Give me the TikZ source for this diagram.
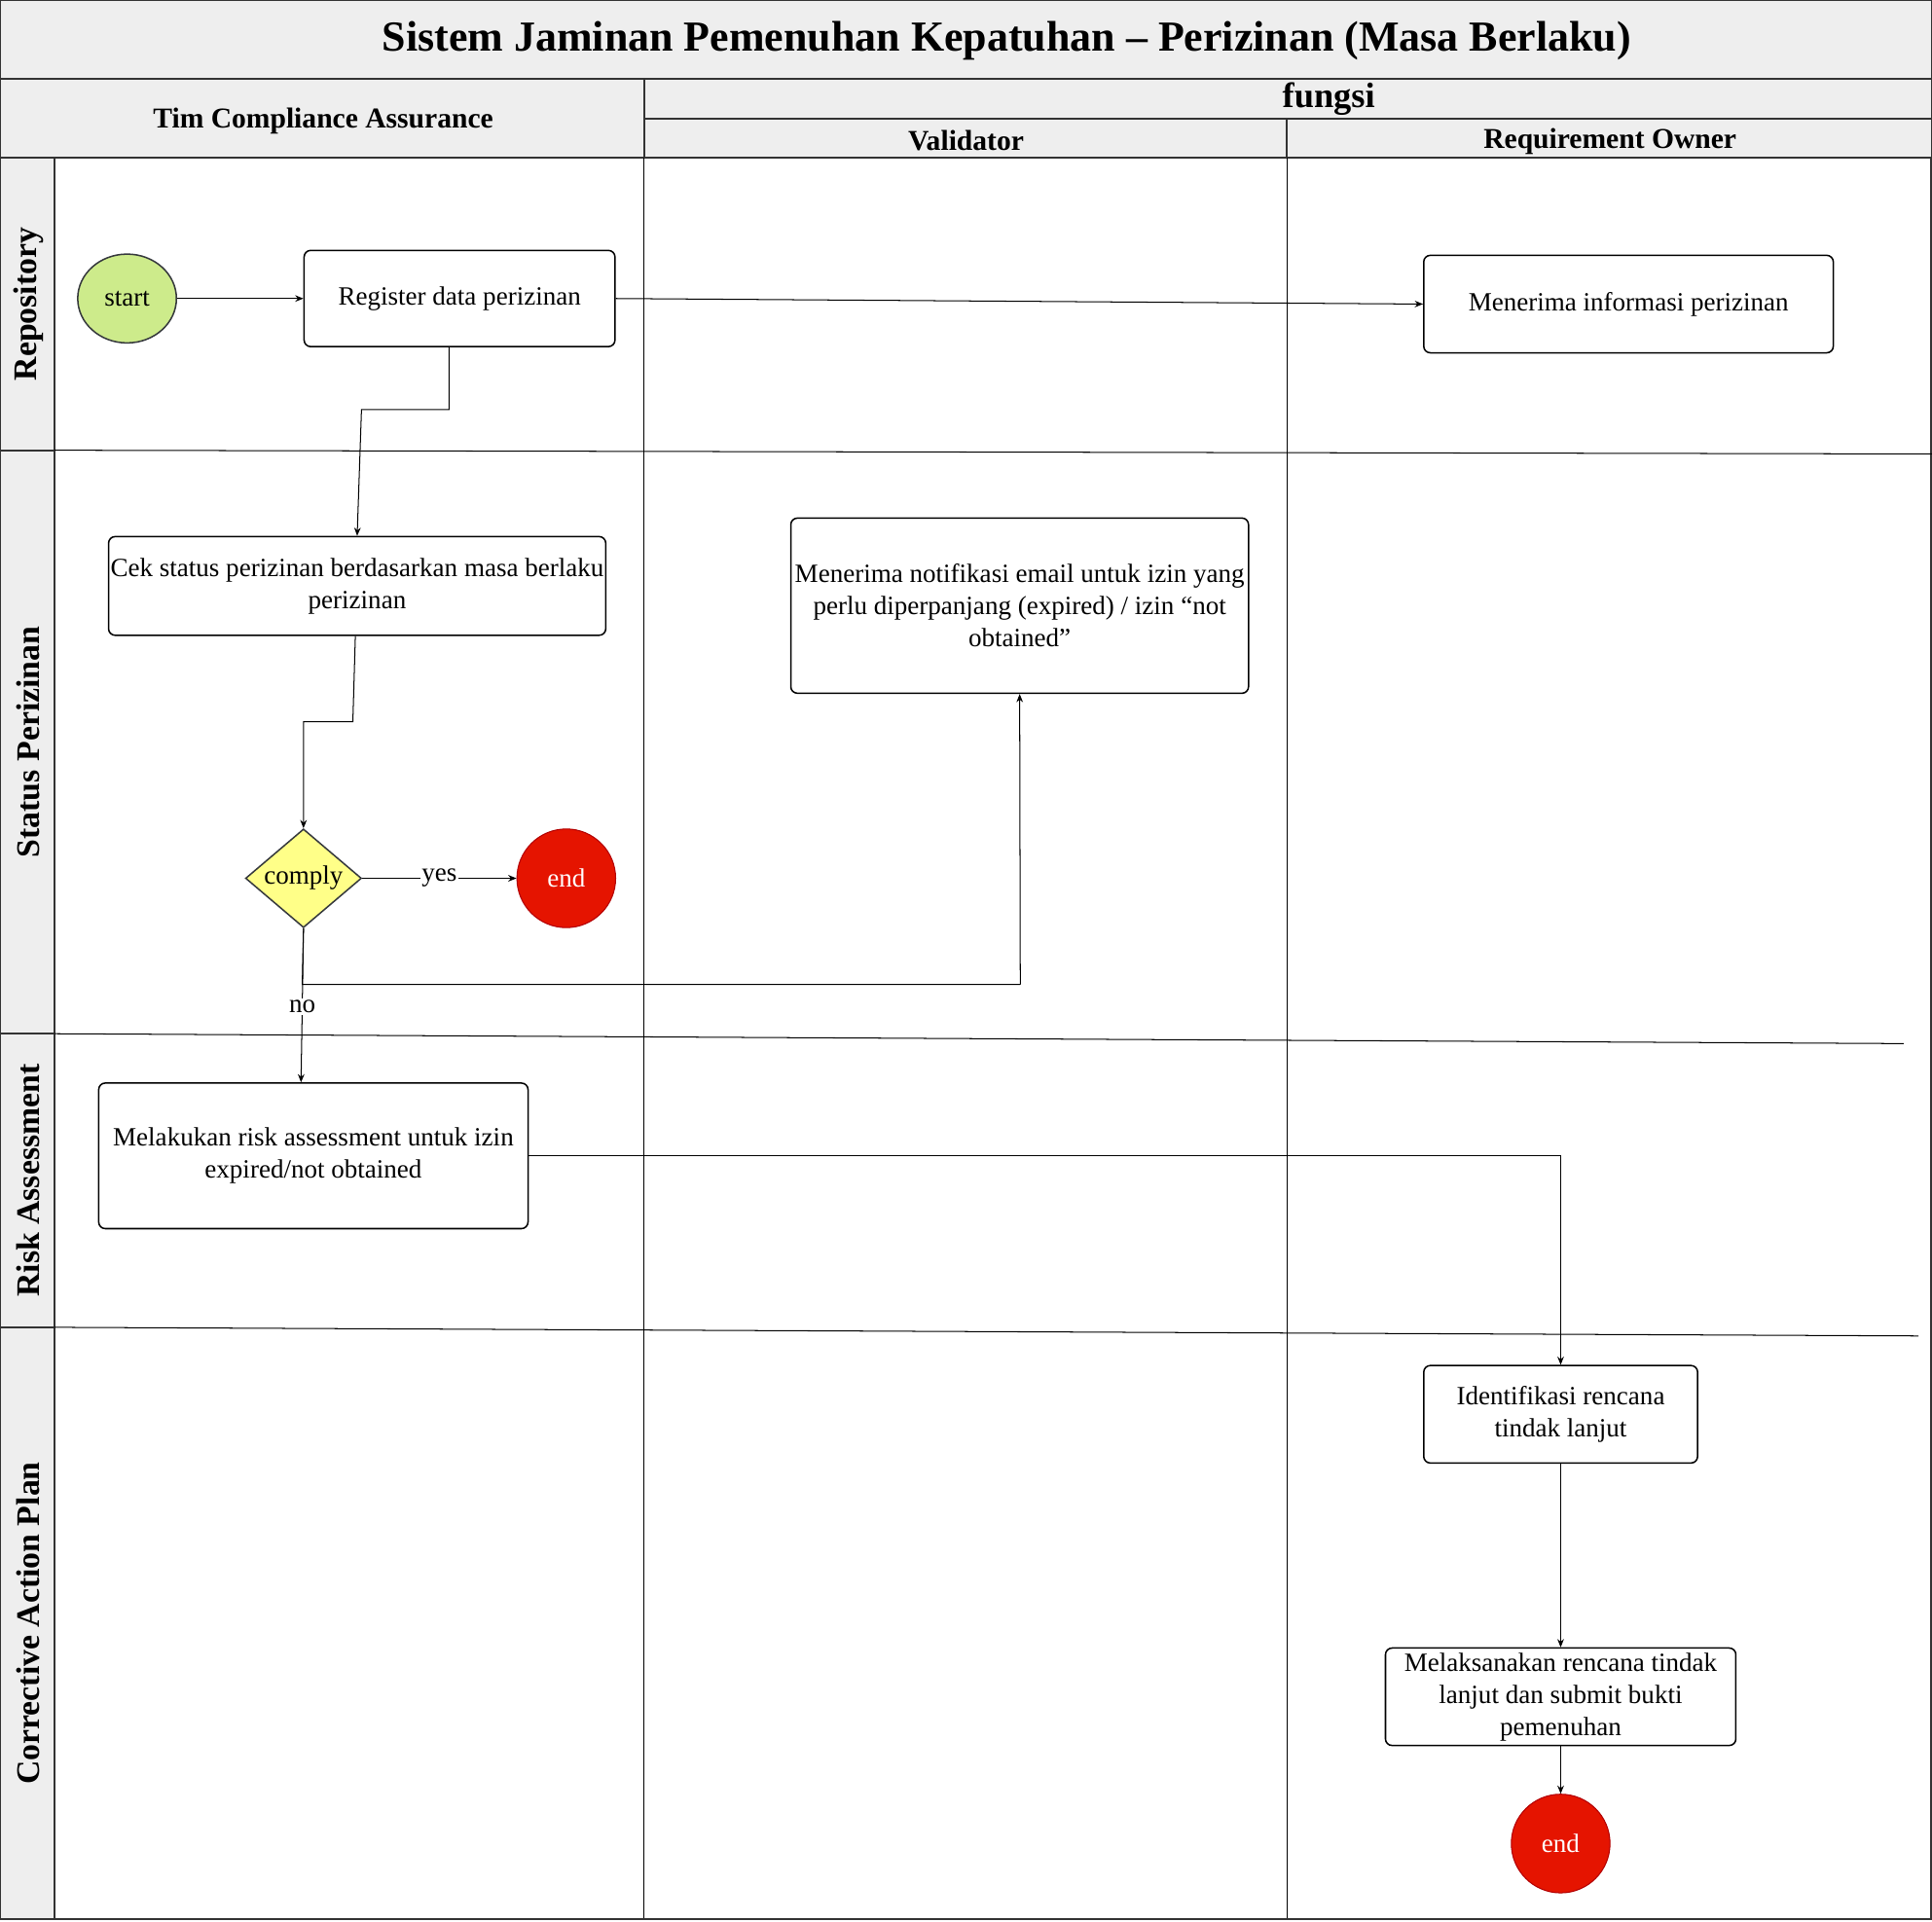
\documentclass[tikz,border=0pt]{standalone}
\usepackage{fontspec}
\setmainfont{Liberation Serif}
\usetikzlibrary{shapes.geometric,arrows.meta}
\definecolor{hdr}{HTML}{EEEEEE}
\definecolor{frm}{HTML}{333333}
\definecolor{startfill}{HTML}{CDEB8B}
\definecolor{yel}{HTML}{FFFF88}
\definecolor{endred}{HTML}{E51400}
\definecolor{endbrd}{HTML}{B20000}
\definecolor{shpbrd}{HTML}{36393D}
\begin{document}
\begin{tikzpicture}[x=0.75pt,y=-0.75pt,
  frame/.style={draw=frm,line width=1.1pt},
  hdrbox/.style={frame,fill=hdr},
  lane/.style={draw=black,line width=0.6pt},
  proc/.style={draw=black,line width=0.9pt,rounded corners=4pt,fill=white,align=center,
               font=\fontsize{16}{19.5}\selectfont,inner sep=0pt},
  hdrtxt/.style={font=\bfseries\fontsize{17.5}{21}\selectfont,inner sep=0pt},
  lanetxt/.style={font=\bfseries\fontsize{20}{24}\selectfont,inner sep=0pt,rotate=90},
  startnode/.style={ellipse,draw=shpbrd,line width=0.9pt,fill=startfill,minimum width=60pt,
               minimum height=54pt,inner sep=0pt,font=\fontsize{16}{19.5}\selectfont},
  endnode/.style={circle,draw=endbrd,line width=0.6pt,fill=endred,text=white,minimum size=60pt,
               inner sep=0pt,font=\fontsize{16}{19.5}\selectfont},
  decision/.style={diamond,draw=shpbrd,line width=0.9pt,fill=yel,minimum width=70.5pt,
               minimum height=60pt,inner sep=0pt,font=\fontsize{16}{19.5}\selectfont},
  arr/.style={draw=black,line width=0.6pt,-{Stealth[length=5pt,width=4pt]}},
  lbl/.style={fill=white,inner sep=1pt,font=\fontsize{16}{19.5}\selectfont}]
\useasboundingbox (0,0) rectangle (1566,1558);
\fill[white] (0,0) rectangle (1566,1558);

% ---- title and headers
\draw[hdrbox] (0,0) rectangle (1566,64);
\node[font=\bfseries\fontsize{26}{30}\selectfont,inner sep=0pt] (title) at (816,33)
  {Sistem Jaminan Pemenuhan Kepatuhan – Perizinan (Masa Berlaku)};
\draw[hdrbox] (0,64) rectangle (522,128);
\draw[hdrbox] (522,64) rectangle (1566,96);
\draw[hdrbox] (522,96) rectangle (1043,128);
\draw[hdrbox] (1043,96) rectangle (1566,128);
\node[hdrtxt] (hTim) at (262,98.5) {Tim Compliance Assurance};
\node[font=\bfseries\fontsize{21.5}{25}\selectfont,inner sep=0pt] (hFungsi) at (1077,80) {fungsi};
\node[hdrtxt] (hVal) at (783,114) {Validator};
\node[hdrtxt] (hRO) at (1305,115) {Requirement Owner};

% ---- lane label column
\draw[hdrbox] (0,128) rectangle (44,365);
\draw[hdrbox] (0,365) rectangle (44,838);
\draw[hdrbox] (0,838) rectangle (44,1076);
\draw[hdrbox] (0,1076) rectangle (44,1556);
\node[lanetxt] (lRepo) at (23,246.5) {Repository};
\node[lanetxt] (lStat) at (23,601.5) {Status Perizinan};
\node[lanetxt] (lRisk) at (23,957) {Risk Assessment};
\node[lanetxt] (lCAP) at (23,1316) {Corrective Action Plan};

% ---- body grid
\draw[lane] (522,128) -- (522,1556);
\draw[lane] (1043,128) -- (1043,1556);
\draw[frame] (1565,128) -- (1565,1556);
\draw[frame] (44,1556) -- (1566,1556);
\draw[lane] (44,365) -- (1566,368);
\draw[lane] (44,838) -- (1543,846);
\draw[lane] (44,1076) -- (1555,1083);

% ---- nodes
\node[startnode] (start) at (103,242) {start};
\node[proc,minimum width=189pt,minimum height=58.5pt] (reg) at (372.5,242) {Register data perizinan};
\node[proc,minimum width=249pt,minimum height=59.25pt] (info) at (1320,246.5) {Menerima informasi perizinan};
\node[proc,minimum width=302.25pt,minimum height=60pt] (cek) at (289.5,475)
  {Cek status perizinan berdasarkan masa berlaku\\perizinan};
\node[proc,minimum width=278.25pt,minimum height=106.5pt] (notif) at (826.5,491)
  {Menerima notifikasi email untuk izin yang\\perlu diperpanjang (expired) / izin “not\\obtained”};
\node[decision] (comply) at (246,712) {\makebox[0pt]{comply}};
\node[endnode] (end1) at (459,712) {end};
\node[proc,minimum width=261pt,minimum height=88.5pt] (risk) at (254,937)
  {Melakukan risk assessment untuk izin\\expired/not obtained};
\node[proc,minimum width=166.5pt,minimum height=59.25pt] (ident) at (1265,1146.5)
  {Identifikasi rencana\\tindak lanjut};
\node[proc,minimum width=213pt,minimum height=59.25pt] (laks) at (1265,1375.5)
  {Melaksanakan rencana tindak\\lanjut dan submit bukti\\pemenuhan};
\node[endnode] (end2) at (1265,1494.5) {end};

% ---- connectors
\draw[arr] (start) -- (reg);
\draw[arr] (reg.east) -- (info.west);
\draw[arr] ([xshift=-6.4pt]reg.south) -- (364,332) -- (293,332) -- (cek.north);
\draw[arr] ([xshift=-1.1pt]cek.south) -- (286,585) -- (246,585) -- (comply.north);
\draw[arr] (comply.east) -- node[lbl] (lyes) {yes} (end1.west);
\draw[line width=0.6pt] (comply.south) -- (245,798) -- (827,798);
\draw[arr] (827,798) -- (notif.south);
\draw[arr] (comply.south) -- node[lbl,pos=0.51] (lno) {no} ([xshift=-7.5pt]risk.north);
\draw[arr] (risk.east) -| (ident.north);
\draw[arr] (ident) -- (laks);
\draw[arr] (laks) -- (end2);
\end{tikzpicture}
\end{document}
